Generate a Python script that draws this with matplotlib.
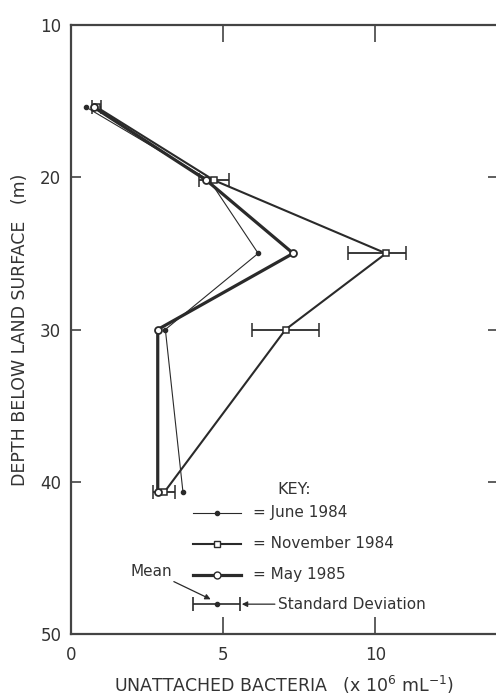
import matplotlib
matplotlib.use("Agg")
import matplotlib.pyplot as plt

plt.rcParams['font.family'] = ['DejaVu Sans']

depth = [15.4, 20.2, 25.0, 30.0, 40.7]
june_1984 = [0.5, 4.55, 6.15, 3.1, 3.68]
nov_1984 = [0.85, 4.7, 10.35, 7.05, 3.06]
nov_err_lo = [0.15, 0.5, 1.25, 1.1, 0.36]
nov_err_hi = [0.15, 0.5, 0.65, 1.1, 0.36]
may_1985 = [0.75, 4.45, 7.3, 2.85, 2.85]

x_ticks = [0, 5, 10]
y_ticks = [10, 20, 30, 40, 50]

C = '#2a2a2a'
TC = '#333333'
fig = plt.figure(figsize=(4.96, 6.97), dpi=100)
ax = fig.add_axes([71/496, 63/697, 427/496, 609/697])

ax.plot(june_1984, depth, '-', color=C, lw=0.8, marker='o', ms=3,
        mfc=C, mec=C, zorder=3)
ax.errorbar(nov_1984, depth, xerr=[nov_err_lo, nov_err_hi], fmt='-s', color=C,
            lw=1.5, ms=4.3, mfc='white', mec=C, mew=1.1, ecolor=C,
            elinewidth=1.3, capsize=5, capthick=1.3, zorder=4)
ax.plot(may_1985, depth, '-', color=C, lw=2.3, marker='o', ms=5,
        mfc='white', mec=C, mew=1.3, zorder=5)

ax.set_xlim(0, 14.03)
ax.set_ylim(50, 10)
ax.set_xticks(x_ticks)
ax.set_yticks(y_ticks)
ax.tick_params(axis='x', direction='in', length=12, width=1.1, pad=9,
               top=True, labelsize=12, colors=TC)
ax.tick_params(axis='y', direction='in', length=7, width=1.1, pad=7,
               right=True, labelsize=12, colors=TC)
for s in ax.spines.values():
    s.set_color('#444444')
    s.set_linewidth(1.6)

ax.set_xlabel('UNATTACHED BACTERIA   (x 10$^{6}$ mL$^{-1}$)', fontsize=12.5,
              color=TC, labelpad=7)
ax.set_ylabel('DEPTH BELOW LAND SURFACE   (m)', fontsize=12.5,
              color=TC, labelpad=8)

# Key
T = ax.transAxes
ax.text(0.484, 0.238, 'KEY:', transform=T, fontsize=11.5, color=TC,
        va='center', ha='left')
rows = [(0.199, '= June 1984', 0.8, 'o', 3, C),
        (0.148, '= November 1984', 1.5, 's', 4.3, 'white'),
        (0.097, '= May 1985', 2.3, 'o', 5, 'white')]
for yy, lab, lw, mk, ms, fc in rows:
    ax.plot([0.286, 0.397], [yy, yy], transform=T, color=C, lw=lw, zorder=6)
    ax.plot([0.3415], [yy], transform=T, marker=mk, ms=ms, mfc=fc, mec=C,
            color=C, zorder=7)
    ax.text(0.427, yy, lab, transform=T, fontsize=11, color=TC,
            va='center', ha='left')

yy = 0.049
ax.errorbar([0.3415], [yy], xerr=[[0.055], [0.055]], transform=T, fmt='o',
            color=C, ms=3, capsize=5, elinewidth=1.2, capthick=1.2, zorder=7)
ax.text(0.188, 0.102, 'Mean', transform=T, fontsize=11, color=TC,
        va='center', ha='center')
ax.annotate('', xy=(0.333, 0.055), xytext=(0.235, 0.088), xycoords=T,
            textcoords=T, arrowprops=dict(arrowstyle='-|>', color=C, lw=0.9,
                                          mutation_scale=8))
ax.annotate('Standard Deviation', xy=(0.40, yy), xytext=(0.484, yy),
            xycoords=T, textcoords=T, fontsize=11, color=TC,
            va='center', ha='left',
            arrowprops=dict(arrowstyle='-|>', color=C, lw=0.9,
                            mutation_scale=8, shrinkA=0, shrinkB=0))

fig.savefig('out.png', dpi=100)
